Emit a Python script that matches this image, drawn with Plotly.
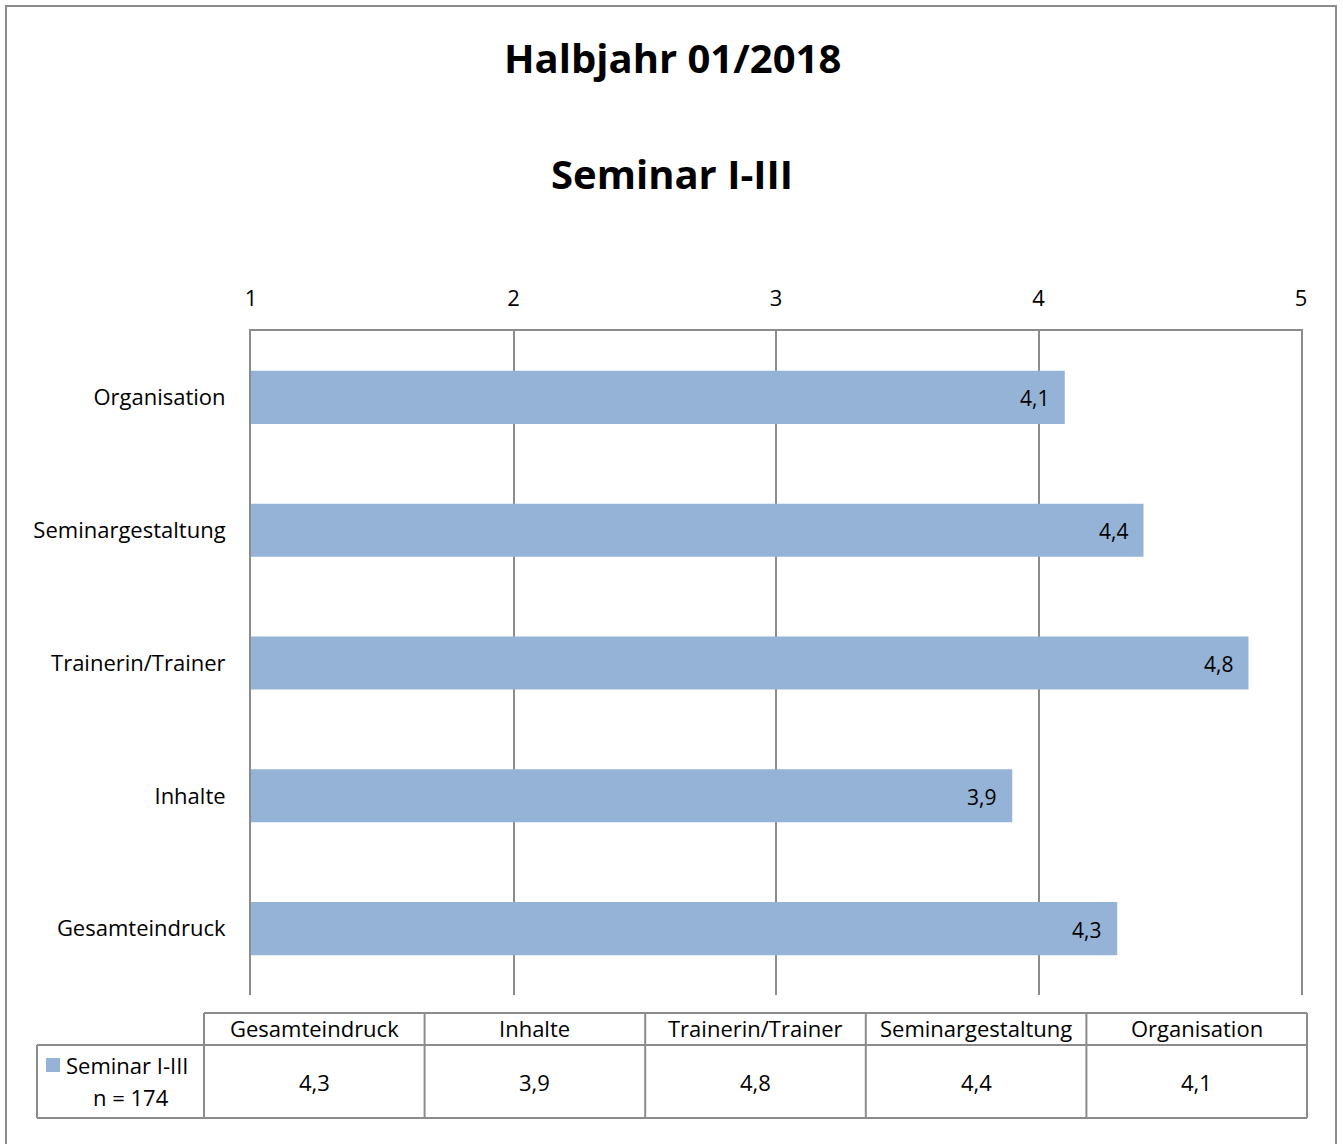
import plotly.graph_objects as go

categories = ["Gesamteindruck", "Inhalte", "Trainerin/Trainer", "Seminargestaltung", "Organisation"]
values = [4.3, 3.9, 4.8, 4.4, 4.1]
tick_vals = [1, 2, 3, 4, 5]
title_line1 = "Halbjahr 01/2018"
title_line2 = "Seminar I-III"
series_name = "Seminar I-III"
series_n = "n = 174"

BAR = "#95B3D7"
GRID = "#8C8C8C"
FONT = "Open Sans"
FS = 22

W, H = 1343, 1144
L, R, T, B = 251, 1301, 331, 995  # plot area in pixels


def px(x):
    return (x - L) / (R - L)


def py(y):
    return (B - y) / (B - T)


def fmt(v):
    return f"{v:.1f}".replace(".", ",")


fig = go.Figure()
fig.add_trace(go.Bar(
    y=categories, x=values, orientation="h",
    marker=dict(color=BAR, line=dict(width=0)),
    width=0.4, textposition="none",
    name=series_name, showlegend=False, cliponaxis=True,
))

shapes = []
annotations = []

# data labels at bar ends
for c, v in zip(categories, values):
    annotations.append(dict(text=fmt(v), xref="x", yref="y", x=v, y=c,
                            xanchor="right", yanchor="middle", xshift=-14, yshift=-1,
                            showarrow=False, font=dict(family=FONT, size=21, color="black")))

# chart outer border
shapes.append(dict(type="rect", xref="paper", yref="paper",
                   x0=px(6), x1=px(1336), y0=py(1150), y1=py(6),
                   line=dict(color=GRID, width=2)))

# titles
for txt, yy in [(title_line1, 57), (title_line2, 174)]:
    annotations.append(dict(text=f"<b>{txt}</b>", xref="paper", yref="paper",
                            x=px(672), y=py(yy), xanchor="center", yanchor="middle",
                            showarrow=False, font=dict(family=FONT, size=40, color="black")))

# data table
col_left = 204
col_w = (1307 - 204) / len(categories)
row_top, row_mid, row_bot = 1013, 1045, 1118
line = dict(color=GRID, width=2)
shapes.append(dict(type="line", xref="paper", yref="paper",
                   x0=px(col_left), x1=px(1307), y0=py(row_top), y1=py(row_top), line=line))
shapes.append(dict(type="line", xref="paper", yref="paper",
                   x0=px(37), x1=px(1307), y0=py(row_mid), y1=py(row_mid), line=line))
shapes.append(dict(type="line", xref="paper", yref="paper",
                   x0=px(37), x1=px(1307), y0=py(row_bot), y1=py(row_bot), line=line))
shapes.append(dict(type="line", xref="paper", yref="paper",
                   x0=px(37), x1=px(37), y0=py(row_mid), y1=py(row_bot), line=line))
for i in range(len(categories) + 1):
    xx = col_left + i * col_w
    shapes.append(dict(type="line", xref="paper", yref="paper",
                       x0=px(xx), x1=px(xx), y0=py(row_top), y1=py(row_bot), line=line))
for i, (c, v) in enumerate(zip(categories, values)):
    cx = col_left + (i + 0.5) * col_w
    annotations.append(dict(text=c, xref="paper", yref="paper", x=px(cx), y=py(1028),
                            xanchor="center", yanchor="middle",
                            showarrow=False, font=dict(family=FONT, size=FS, color="black")))
    annotations.append(dict(text=fmt(v), xref="paper", yref="paper",
                            x=px(cx), y=py(1082), xanchor="center", yanchor="middle",
                            showarrow=False, font=dict(family=FONT, size=FS, color="black")))
# legend cell
shapes.append(dict(type="rect", xref="paper", yref="paper",
                   x0=px(46), x1=px(60), y0=py(1072), y1=py(1058),
                   fillcolor=BAR, line=dict(width=0)))
annotations.append(dict(text=series_name, xref="paper", yref="paper", x=px(64), y=py(1065),
                        xanchor="left", yanchor="middle", showarrow=False,
                        font=dict(family=FONT, size=FS, color="black")))
annotations.append(dict(text=series_n, xref="paper", yref="paper", x=px(131), y=py(1097),
                        xanchor="center", yanchor="middle",
                        showarrow=False, font=dict(family=FONT, size=FS, color="black")))

fig.update_layout(
    width=W, height=H,
    margin=dict(l=L, r=W - R, t=T, b=H - B, pad=0),
    paper_bgcolor="white", plot_bgcolor="white",
    separators=",.",
    bargap=0.6,
    shapes=shapes, annotations=annotations,
    font=dict(family=FONT, size=FS, color="black"),
    xaxis=dict(range=[1, 5], side="top", tickvals=tick_vals, ticks="",
               showgrid=True, gridcolor=GRID, gridwidth=2,
               showline=True, linecolor=GRID, linewidth=2,
               zeroline=False, ticklabelstandoff=14,
               tickfont=dict(family=FONT, size=FS, color="black")),
    yaxis=dict(showgrid=False, zeroline=False, ticks="",
               showline=True, mirror=True, linecolor=GRID, linewidth=2,
               ticklabelstandoff=19,
               tickfont=dict(family=FONT, size=FS, color="black")),
)

fig.write_html("out.html", config={"displayModeBar": False},
               post_script="document.body.style.margin='0';")
